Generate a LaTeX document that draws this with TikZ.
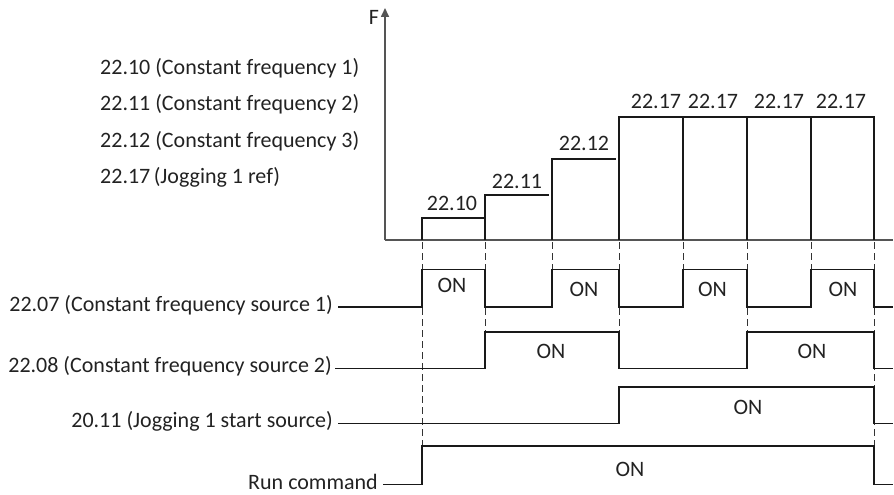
\documentclass[tikz,border=0pt]{standalone}
\usepackage{fontspec}
\setmainfont{Carlito}
\usetikzlibrary{arrows.meta}
\definecolor{txt}{HTML}{222222}
\definecolor{axisc}{HTML}{555555}
\begin{document}
\begin{tikzpicture}[x=1pt,y=-1pt,
  font=\fontsize{22}{26}\selectfont, text=txt,
  sig/.style={line width=1.6pt, black!90, line join=miter},
  axisline/.style={line width=1.6pt, axisc},
  guide/.style={line width=0.8pt, black!80, dash pattern=on 7pt off 4pt},
  lbl/.style={inner sep=2pt},
  onlbl/.style={inner sep=0pt}]
\useasboundingbox (0,0) rectangle (894,495);
% times
\def\tA{422}\def\tB{485}\def\tC{552}\def\tD{619}
\def\tE{683}\def\tF{747}\def\tG{811}\def\tH{874}
% axis
\coordinate (orig) at (385,240);
\coordinate (ytop) at (385,8);
\coordinate (xend) at (893,240);
\draw[axisline,-{Triangle[length=9pt,width=8pt]}] (orig) -- (ytop);
\draw[axisline] (orig) -- (xend);
\node[lbl] (F) at (374,17) {F};
% legend
\node[lbl,anchor=west] (l1) at (98,68) {22.10 (Constant frequency 1)};
\node[lbl,anchor=west] (l2) at (98,104) {22.11 (Constant frequency 2)};
\node[lbl,anchor=west] (l3) at (98,141) {22.12 (Constant frequency 3)};
\node[lbl,anchor=west] (l4) at (98,177) {22.17\kern-1.5pt\ (Jogging 1 ref)};
% frequency steps
\draw[sig] (\tA,240) -- (\tA,217.7) -- (\tB,217.7);
\draw[sig] (\tB,240) -- (\tB,194.7) -- (549,194.7);
\draw[sig] (\tC,240) -- (\tC,158.7) -- (616,158.7);
\draw[sig] (\tD,240) -- (\tD,117) -- (\tH,117) -- (\tH,240);
\foreach \t in {\tE,\tF,\tG} \draw[sig] (\t,240) -- (\t,117);
\node[onlbl] (f1) at (452,203) {22.10};
\node[onlbl] (f2) at (517,181) {22.11};
\node[onlbl] (f3) at (584,143) {22.12};
\node[onlbl] (f4) at (656,101) {22.17};
\node[onlbl] (f5) at (713,101) {22.17};
\node[onlbl] (f6) at (779,101) {22.17};
\node[onlbl] (f7) at (841,101) {22.17};
% guides (each runs down to the first edge it meets)
\draw[guide] (\tA,242) -- (\tA,446);
\draw[guide] (\tB,242) -- (\tB,331.7);
\draw[guide] (\tC,242) -- (\tC,269.3);
\draw[guide] (\tD,242) -- (\tD,331.7);
\draw[guide] (\tE,242) -- (\tE,269.3);
\draw[guide] (\tF,242) -- (\tF,331.7);
\draw[guide] (\tG,242) -- (\tG,269.3);
\draw[guide] (\tH,242) -- (\tH,446);
% row labels
\node[lbl,anchor=east] (r1) at (335,305.5) {22.07 (Constant frequency source 1)};
\node[lbl,anchor=east] (r2) at (334,366) {22.08 (Constant frequency source 2)};
\node[lbl,anchor=east] (r3) at (335,421.5) {20.11 (Jogging 1 start source)};
\node[lbl,anchor=east] (r4) at (380,481.5) {Run command};
% row 1
\def\hi{269.3}\def\lo{306.7}
\draw[sig] (338,\lo) -- (\tA,\lo) -- (\tA,\hi) -- (\tB,\hi) -- (\tB,\lo) -- (\tC,\lo) -- (\tC,\hi) -- (\tD,\hi) -- (\tD,\lo)
  -- (\tE,\lo) -- (\tE,\hi) -- (\tF,\hi) -- (\tF,\lo) -- (\tG,\lo) -- (\tG,\hi) -- (\tH,\hi) -- (\tH,\lo) -- (893,\lo);
\node[onlbl] (o1) at (452,285) {ON};
\node[onlbl] (o2) at (584,289) {ON};
\node[onlbl] (o3) at (712.5,289) {ON};
\node[onlbl] (o4) at (843,289) {ON};
% row 2
\def\hi{331.7}\def\lo{368.3}
\draw[sig] (335,\lo) -- (\tB,\lo) -- (\tB,\hi) -- (\tD,\hi) -- (\tD,\lo) -- (\tF,\lo) -- (\tF,\hi) -- (\tH,\hi) -- (\tH,\lo) -- (893,\lo);
\node[onlbl] (o5) at (551,351) {ON};
\node[onlbl] (o6) at (812,351) {ON};
% row 3
\def\hi{386.7}\def\lo{423.3}
\draw[sig] (338,\lo) -- (\tD,\lo) -- (\tD,\hi) -- (\tH,\hi) -- (\tH,\lo) -- (893,\lo);
\node[onlbl] (o7) at (748,407) {ON};
% row 4
\def\hi{446}\def\lo{484.3}
\draw[sig] (383,\lo) -- (\tA,\lo) -- (\tA,\hi) -- (\tH,\hi) -- (\tH,\lo) -- (893,\lo);
\node[onlbl] (o8) at (630,469) {ON};
\end{tikzpicture}
\end{document}
